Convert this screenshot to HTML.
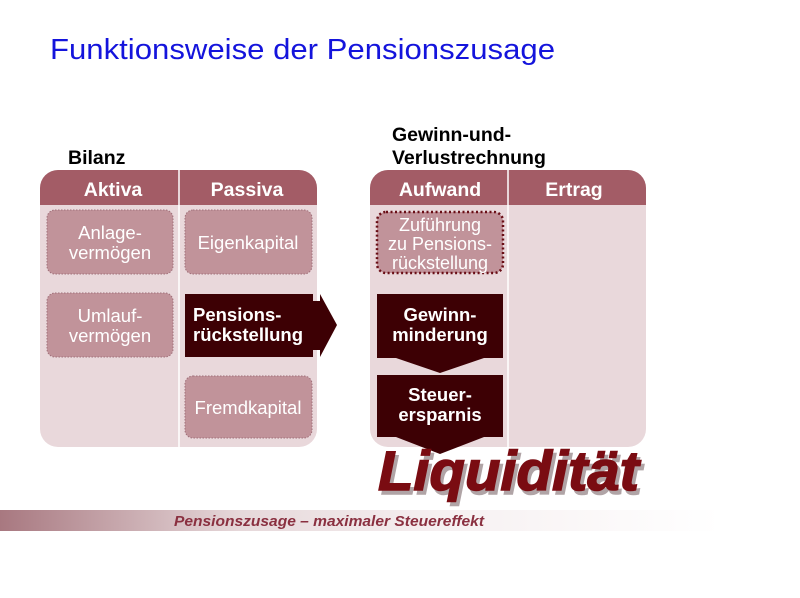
<!DOCTYPE html>
<html><head><meta charset="utf-8"><style>
body{margin:0;background:#fff;width:800px;height:598px;overflow:hidden}
svg{display:block}
</style></head><body>
<svg width="800" height="598" viewBox="0 0 800 598" font-family="Liberation Sans, Arial, sans-serif">
<defs>
<linearGradient id="ft" x1="0" x2="1" y1="0" y2="0">
<stop offset="0" stop-color="#a87880"/>
<stop offset="0.3" stop-color="#e6d8da"/>
<stop offset="0.55" stop-color="#f6f0f1"/>
<stop offset="0.9" stop-color="#ffffff"/>
</linearGradient>
</defs>
<text x="50" y="59" font-size="29" fill="#1414dc" textLength="505" lengthAdjust="spacingAndGlyphs">Funktionsweise der Pensionszusage</text>
<text x="68" y="164" font-size="19.5" font-weight="bold" fill="#000">Bilanz</text>
<text x="392" y="141" font-size="19.5" font-weight="bold" fill="#000">Gewinn-und-</text>
<text x="392" y="164" font-size="19.5" font-weight="bold" fill="#000">Verlustrechnung</text>

<!-- left panel -->
<rect x="40" y="170" width="277" height="277" rx="18" fill="#e9d8db"/>
<path d="M58 170 H299 A18 18 0 0 1 317 188 V205 H40 V188 A18 18 0 0 1 58 170Z" fill="#a35c66"/>
<line x1="179" y1="170" x2="179" y2="447" stroke="#fff" stroke-width="1.5"/>
<text x="113" y="196" font-size="19.5" font-weight="bold" fill="#fff" text-anchor="middle">Aktiva</text>
<text x="247" y="196" font-size="19.5" font-weight="bold" fill="#fff" text-anchor="middle">Passiva</text>
<g fill="#c1939a" stroke="#a0707a" stroke-dasharray="1.5 1.5">
<rect x="47" y="210" width="126" height="64" rx="8"/>
<rect x="47" y="293" width="126" height="64" rx="8"/>
<rect x="185" y="210" width="127" height="64" rx="8"/>
<rect x="185" y="376" width="127" height="62" rx="8"/>
</g>
<g font-size="18.5" fill="#fff" text-anchor="middle">
<text x="110" y="239">Anlage-</text><text x="110" y="259">vermögen</text>
<text x="110" y="322">Umlauf-</text><text x="110" y="342">vermögen</text>
<text x="248" y="249">Eigenkapital</text>
<text x="248" y="414">Fremdkapital</text>
</g>
<path d="M185 294 H313 V301 H320 V294 L337 325 L320 357 V350 H313 V357 H185Z" fill="#3d0004"/>
<text x="193" y="321" font-size="18.5" font-weight="bold" fill="#fff">Pensions-</text>
<text x="193" y="341" font-size="18.5" font-weight="bold" fill="#fff">rückstellung</text>

<!-- right panel -->
<rect x="370" y="170" width="276" height="277" rx="18" fill="#e9d8db"/>
<path d="M388 170 H628 A18 18 0 0 1 646 188 V205 H370 V188 A18 18 0 0 1 388 170Z" fill="#a35c66"/>
<line x1="508" y1="170" x2="508" y2="447" stroke="#fff" stroke-width="1.5"/>
<text x="440" y="196" font-size="19.5" font-weight="bold" fill="#fff" text-anchor="middle">Aufwand</text>
<text x="574" y="196" font-size="19.5" font-weight="bold" fill="#fff" text-anchor="middle">Ertrag</text>
<rect x="377" y="212" width="126" height="61" rx="9" fill="#c1939a" stroke="#6a0e16" stroke-width="2.5" stroke-dasharray="2 2.5"/>
<g font-size="18" fill="#fff" text-anchor="middle">
<text x="440" y="231">Zuführung</text>
<text x="440" y="250">zu Pensions-</text>
<text x="440" y="269">rückstellung</text>
</g>
<rect x="377" y="294" width="126" height="64" fill="#3d0004"/>
<path d="M396 358 H484 L440 373Z" fill="#3d0004"/>
<rect x="377" y="375" width="126" height="62" fill="#3d0004"/>
<path d="M396 437 H484 L440 454Z" fill="#3d0004"/>
<g font-size="18.5" font-weight="bold" fill="#fff" text-anchor="middle">
<text x="440" y="321">Gewinn-</text><text x="440" y="341">minderung</text>
<text x="440" y="401">Steuer-</text><text x="440" y="421">ersparnis</text>
</g>
<text x="381" y="494" font-size="56" font-weight="bold" font-style="italic" fill="#b0a4a6" stroke="#b0a4a6" stroke-width="1.5" textLength="261" lengthAdjust="spacingAndGlyphs">Liquidität</text>
<text x="378" y="490" font-size="56" font-weight="bold" font-style="italic" fill="#7a0c12" stroke="#7a0c12" stroke-width="1.5" textLength="261" lengthAdjust="spacingAndGlyphs">Liquidität</text>

<!-- footer -->
<rect x="0" y="510" width="800" height="21" fill="url(#ft)"/>
<text x="174" y="526" font-size="15" font-weight="bold" font-style="italic" fill="#8a3040" textLength="310" lengthAdjust="spacingAndGlyphs">Pensionszusage – maximaler Steuereffekt</text>
</svg>
</body></html>
